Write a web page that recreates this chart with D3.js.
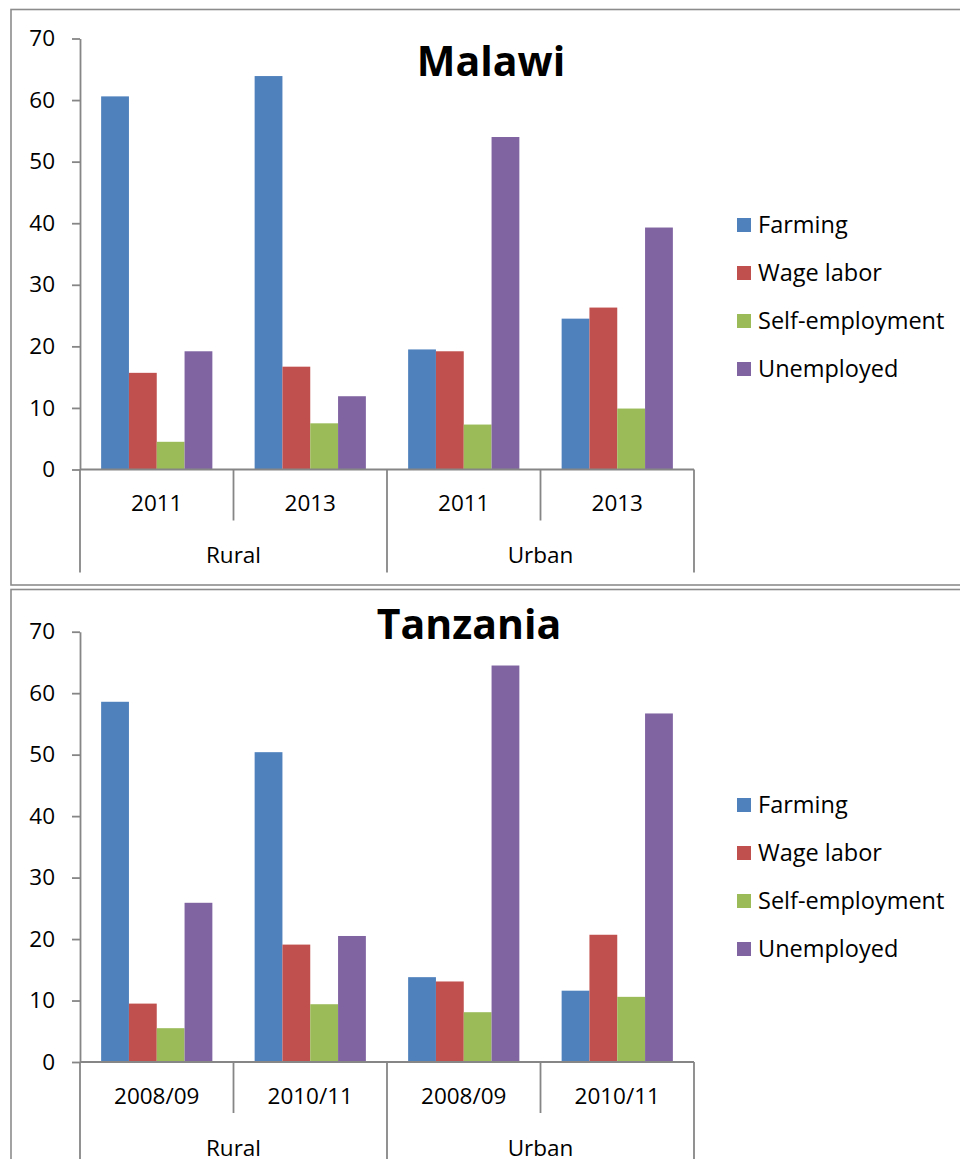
<!DOCTYPE html>
<html>
<head>
<meta charset="utf-8">
<script src="https://cdn.jsdelivr.net/npm/d3@7"></script>
<style>
  html, body { margin: 0; padding: 0; background: #fff; }
  svg { display: block; font-family: "Open Sans", "Liberation Sans", sans-serif; }
</style>
</head>
<body>
<svg id="chart" width="960" height="1159"></svg>
<script>
// Employment status shares (%), by area and survey year
const seriesNames = ["Farming", "Wage labor", "Self-employment", "Unemployed"];
const seriesColors = ["#4F81BD", "#C0504D", "#9BBB59", "#8064A2"];
const areas = ["Rural", "Urban"];
const yTicks = [0, 10, 20, 30, 40, 50, 60, 70];

// Malawi
const malawiYears = ["2011", "2013"];
const malawiFarming    = [60.6, 63.9, 19.5, 24.5];
const malawiWage       = [15.7, 16.7, 19.2, 26.3];
const malawiSelf       = [4.5, 7.5, 7.3, 9.9];
const malawiUnemployed = [19.2, 11.9, 54.0, 39.3];

// Tanzania
const tanzaniaYears = ["2008/09", "2010/11"];
const tanzaniaFarming    = [58.6, 50.4, 13.8, 11.6];
const tanzaniaWage       = [9.5, 19.1, 13.1, 20.7];
const tanzaniaSelf       = [5.5, 9.4, 8.1, 10.6];
const tanzaniaUnemployed = [25.9, 20.5, 64.5, 56.7];

const svg = d3.select("#chart");
const axisGray = "#868686";
const frameGray = "#8c8c8c";

const panels = [
  { title: "Malawi", years: malawiYears,
    values: [malawiFarming, malawiWage, malawiSelf, malawiUnemployed],
    frameTop: 9.5, frameBottom: 585, plotTop: 38.5, zeroY: 469.5,
    titleX: 491, titleY: 76, legendTop: 225 },
  { title: "Tanzania", years: tanzaniaYears,
    values: [tanzaniaFarming, tanzaniaWage, tanzaniaSelf, tanzaniaUnemployed],
    frameTop: 589.5, frameBottom: 1200, plotTop: 631.7, zeroY: 1062,
    titleX: 469, titleY: 639, legendTop: 805 }
];

const plotLeft = 80, plotRight = 694;

panels.forEach(p => {
  const g = svg.append("g");

  // chart frame
  g.append("rect")
    .attr("x", 11).attr("y", p.frameTop)
    .attr("width", 1000).attr("height", p.frameBottom - p.frameTop)
    .attr("fill", "#fff").attr("stroke", frameGray).attr("stroke-width", 1.6);

  // categories: area x year
  const cats = [];
  areas.forEach(a => p.years.forEach(yr => cats.push({ area: a, year: yr, key: a + "|" + yr })));

  const x0 = d3.scaleBand().domain(cats.map(c => c.key)).range([plotLeft, plotRight])
    .paddingInner(0).paddingOuter(0);
  const x1 = d3.scaleBand().domain(seriesNames).range([0, x0.bandwidth()])
    .paddingInner(0).paddingOuter(0.76);
  const y = d3.scaleLinear().domain([0, 70]).range([p.zeroY, p.plotTop]);

  // bars
  cats.forEach((c, ci) => {
    seriesNames.forEach((s, si) => {
      const v = p.values[si][ci];
      g.append("rect")
        .attr("x", x0(c.key) + x1(s))
        .attr("y", y(v))
        .attr("width", x1.bandwidth())
        .attr("height", y(0) - y(v))
        .attr("fill", seriesColors[si]);
    });
  });

  // value axis
  const yAxis = d3.axisLeft(y).tickValues(yTicks).tickSize(8).tickSizeOuter(0).tickPadding(17);
  const ya = g.append("g").attr("transform", `translate(${plotLeft},0)`).call(yAxis);
  ya.select(".domain").attr("stroke", axisGray).attr("stroke-width", 1.8);
  ya.selectAll(".tick line").attr("stroke", axisGray).attr("stroke-width", 1.8);
  ya.selectAll(".tick text")
    .attr("fill", "#000").style("font-size", "22.5px")
    .style("font-family", "'Open Sans', sans-serif");

  // category axis line
  g.append("line")
    .attr("x1", plotLeft).attr("x2", plotRight)
    .attr("y1", y(0)).attr("y2", y(0))
    .attr("stroke", axisGray).attr("stroke-width", 1.8);

  // dividers between years (short) and between areas (long)
  const shortDrop = 51, longDrop = 103;
  cats.forEach((c, i) => {
    const xb = x0(c.key);
    const isAreaEdge = i % p.years.length === 0;
    g.append("line")
      .attr("x1", xb).attr("x2", xb)
      .attr("y1", y(0)).attr("y2", y(0) + (isAreaEdge ? longDrop : shortDrop))
      .attr("stroke", axisGray).attr("stroke-width", 1.8);
  });
  g.append("line")
    .attr("x1", plotRight).attr("x2", plotRight)
    .attr("y1", y(0)).attr("y2", y(0) + longDrop)
    .attr("stroke", axisGray).attr("stroke-width", 1.8);

  // year labels
  g.selectAll(".year").data(cats).enter().append("text")
    .attr("x", c => x0(c.key) + x0.bandwidth() / 2)
    .attr("y", y(0) + 34)
    .attr("dy", "0.35em")
    .attr("text-anchor", "middle")
    .style("font-size", "22.5px")
    .text(c => c.year);

  // area labels
  areas.forEach((a, ai) => {
    const first = x0(a + "|" + p.years[0]);
    const last = x0(a + "|" + p.years[p.years.length - 1]) + x0.bandwidth();
    g.append("text")
      .attr("x", (first + last) / 2)
      .attr("y", y(0) + 86)
      .attr("dy", "0.35em")
      .attr("text-anchor", "middle")
      .style("font-size", "22.5px")
      .text(a);
  });

  // title
  g.append("text")
    .attr("x", p.titleX).attr("y", p.titleY)
    .attr("text-anchor", "middle")
    .style("font-size", "41px").style("font-weight", "bold")
    .text(p.title);

  // legend
  const leg = g.append("g");
  seriesNames.forEach((s, i) => {
    const cy = p.legendTop + i * 48;
    leg.append("rect")
      .attr("x", 737).attr("y", cy - 7)
      .attr("width", 14).attr("height", 14)
      .attr("fill", seriesColors[i]);
    leg.append("text")
      .attr("x", 758).attr("y", cy)
      .attr("dy", "0.35em")
      .style("font-size", "23.5px")
      .text(s);
  });
});
</script>
</body>
</html>
